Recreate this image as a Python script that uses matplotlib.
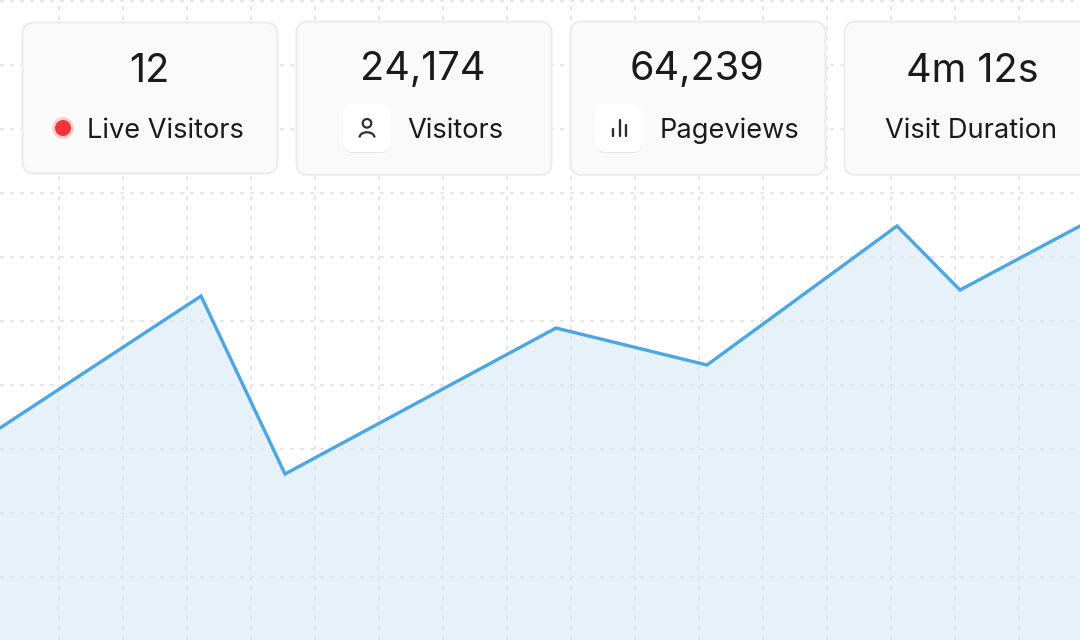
import matplotlib
matplotlib.use("Agg")
import matplotlib.pyplot as plt
from matplotlib.patches import FancyBboxPatch, Circle, Arc

plt.rcParams['font.family'] = ['Inter', 'DejaVu Sans']

# data (chart scale equals pixels of the 1080x640 canvas)
line_x = [0, 201, 285, 556, 707, 897, 960, 1080]
line_y = [428, 296, 474, 328, 365, 226, 290, 226]
grid_x = [59, 123, 187, 251, 315, 379, 443, 507, 571, 635, 699, 763, 827, 891, 955, 1019]
grid_y = [1, 65, 129, 193, 257, 321, 385, 449, 513, 577]
card_values = ['12', '24,174', '64,239', '4m 12s']
card_labels = ['Live Visitors', 'Visitors', 'Pageviews', 'Visit Duration']
card_left = [22.5, 296.5, 570.5, 844.5]
card_top = [22.5, 21.5, 21.5, 21.5]
card_bottom = [173.5, 175, 175, 175]
label_x = [87, 407, 659.5, 885]
value_x = [149, 423, 697, 972]
value_y = [71.5, 69.5, 69.5, 71.5]

fig = plt.figure(figsize=(10.8, 6.4), dpi=100)
ax = fig.add_axes([0, 0, 1, 1])
ax.set_xlim(0, 1080)
ax.set_ylim(640, 0)
ax.axis('off')

FILL = '#e6f1fa'
LINE = '#4ba6e6'
GRID = '#e1e3e5'
TEXT = '#1b1b1d'

ax.fill_between(line_x, line_y, 640, color=FILL, lw=0, zorder=1)
for x in grid_x:
    ax.axvline(x, color=GRID, lw=1.2, dashes=(2.4, 3.6), zorder=2)
for y in grid_y:
    ax.axhline(y, color=GRID, lw=1.2, dashes=(2.4, 3.6), zorder=2)
ax.plot(line_x, line_y, color=LINE, lw=2.4, solid_joinstyle='miter', zorder=3)

for i in range(4):
    l, t, b = card_left[i], card_top[i], card_bottom[i]
    r = 12
    ax.add_patch(FancyBboxPatch((l + r, t + r), 255 - 2 * r, b - t - 2 * r,
                                boxstyle=f"round,pad={r},rounding_size={r}",
                                fc='#fafafa', ec='#ececed', lw=1.5, zorder=4))
    ax.text(value_x[i], value_y[i], card_values[i], ha='center', va='center',
            fontsize=28.5, color=TEXT, zorder=6)
    ax.text(label_x[i], 130.5, card_labels[i], ha='left', va='center',
            fontsize=19.6, color=TEXT, zorder=6)

# live dot
ax.add_patch(Circle((63, 128), 11, fc='#fdd0d0', ec='none', zorder=5))
ax.add_patch(Circle((63, 128), 8, fc='#f93338', ec='none', zorder=6))

# icon tiles
for cx in [367, 619]:
    ax.add_patch(FancyBboxPatch((cx - 14, 115), 28, 28,
                                boxstyle="round,pad=10,rounding_size=10",
                                fc='#e6e6e8', ec='none', zorder=5))
    ax.add_patch(FancyBboxPatch((cx - 14, 114), 28, 28,
                                boxstyle="round,pad=10,rounding_size=10",
                                fc='#ffffff', ec='none', zorder=5.5))

# person icon
ax.add_patch(Circle((367, 123.3), 4.3, fc='none', ec='#2f2f33', lw=1.6, zorder=6))
ax.add_patch(Arc((367, 137.5), 15, 10.5, theta1=180, theta2=360,
                 ec='#2f2f33', lw=1.6, zorder=6))
# bars icon
for x, top, bot in [(612.5, 129, 136), (619.5, 120, 136), (626, 125, 136)]:
    ax.plot([x, x], [top, bot], color='#2f2f33', lw=1.7, zorder=6, solid_capstyle='round')

fig.savefig('out.png', dpi=100, facecolor='white')
